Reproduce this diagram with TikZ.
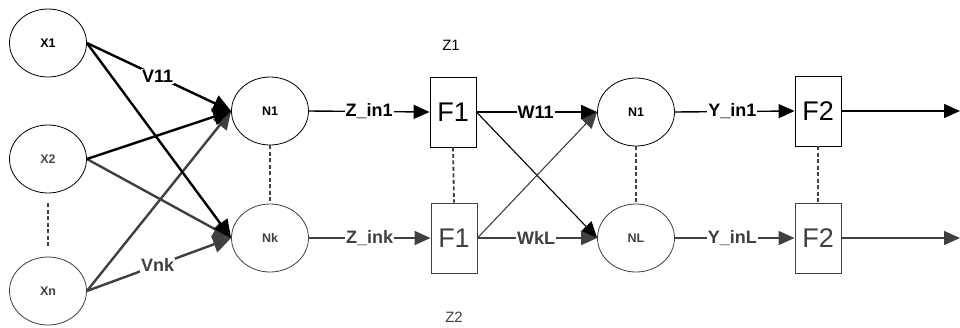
\documentclass[tikz,border=0pt]{standalone}
\usepackage{fontspec}
\setmainfont{Liberation Sans}
\usetikzlibrary{shapes.geometric,arrows.meta}
\definecolor{lowgray}{HTML}{404040}
\definecolor{midgray}{HTML}{4A4A4A}
\tikzset{
  neuron/.style={draw, ellipse, line width=0.8pt, minimum width=77pt, minimum height=68pt,
    inner sep=0pt, font=\fontsize{12.5}{14}\selectfont\bfseries},
  funbox/.style={draw, rectangle, line width=0.9pt, minimum width=46pt, minimum height=70pt,
    inner sep=0pt, font=\fontsize{27}{29}\selectfont},
  wire/.style={line width=1.4pt, -{Triangle[length=16pt,width=14pt]}},
  inwire/.style={line width=2.4pt, -{Triangle[length=18pt,width=17pt]}},
  crosswire/.style={line width=1.1pt, -{Triangle[length=16pt,width=15pt]}},
  lbl/.style={fill=white, inner sep=1pt, font=\fontsize{18}{20}\selectfont\bfseries},
  dots/.style={line width=1.8pt, dash pattern=on 4pt off 2.5pt},
  layer/.style={font=\fontsize{15}{17}\selectfont}
}
\begin{document}
\begin{tikzpicture}[x=1pt,y=-1pt]
\useasboundingbox (0,0) rectangle (960,327);

% input layer
\node[neuron] (x1) at (48,43) {X1};
\node[neuron, text=midgray] (x2) at (48,159) {X2};
\node[neuron, draw=lowgray, text=lowgray] (xn) at (48,291) {Xn};

% hidden layer neurons
\node[neuron] (n1) at (270,111) {N1};
\node[neuron, draw=lowgray, text=lowgray] (nk) at (270,238) {Nk};

% hidden activation boxes
\node[funbox] (f1a) at (453,112) {F1};
\node[funbox, draw=lowgray, text=lowgray] (f1b) at (454,238) {F1};
\node[layer] (z1) at (451,45) {Z1};
\node[layer, text=lowgray] (z2) at (454,317) {Z2};

% output layer neurons
\node[neuron] (o1) at (636,112) {N1};
\node[neuron, draw=lowgray, text=lowgray] (ol) at (636,238) {NL};

% output activation boxes
\node[funbox] (f2a) at (818,111) {F2};
\node[funbox, draw=lowgray, text=lowgray] (f2b) at (818,238) {F2};
\coordinate (outa) at (960,111);
\coordinate (outb) at (960,238);

% continuation marks
\draw[dots, lowgray, shorten <=10pt, shorten >=8pt] (x2.south) -- (xn.north);
\draw[dots, lowgray] (n1.south) -- (nk.north);
\draw[dots, lowgray] (f1a.south) -- (f1b.north);
\draw[dots, lowgray] (o1.south) -- (ol.north);
\draw[dots, lowgray] (f2a.south) -- (f2b.north);

% input weights
\draw[inwire, lowgray] (xn.east) -- (n1.west);
\draw[inwire, lowgray] (x2.east) -- (nk.west);
\draw[inwire, lowgray] (xn.east) -- node[lbl, text=lowgray, pos=0.49] {Vnk} (nk.west);
\draw[inwire] (x1.east) -- (nk.west);
\draw[inwire] (x2.east) -- (n1.west);
\draw[inwire] (x1.east) -- node[lbl, pos=0.49] {V11} (n1.west);

% hidden layer signals
\draw[wire] (n1.east) -- node[lbl] {Z\_in1} (f1a.west);
\draw[wire, lowgray] (nk.east) -- node[lbl, text=lowgray] {Z\_ink} (f1b.west);

% hidden-to-output weights
\draw[crosswire] (f1a.east) -- (ol.west);
\draw[crosswire, lowgray] (f1b.east) -- (o1.west);
\draw[wire] (f1a.east) -- node[lbl, pos=0.49] {W11} (o1.west);
\draw[wire, lowgray] (f1b.east) -- node[lbl, text=lowgray, pos=0.49] {WkL} (ol.west);

% output signals
\draw[wire] (o1.east) -- node[lbl, pos=0.48] {Y\_in1} (f2a.west);
\draw[wire, lowgray] (ol.east) -- node[lbl, text=lowgray, pos=0.48] {Y\_inL} (f2b.west);
\draw[wire] (f2a.east) -- (outa);
\draw[wire, lowgray] (f2b.east) -- (outb);
\end{tikzpicture}
\end{document}
